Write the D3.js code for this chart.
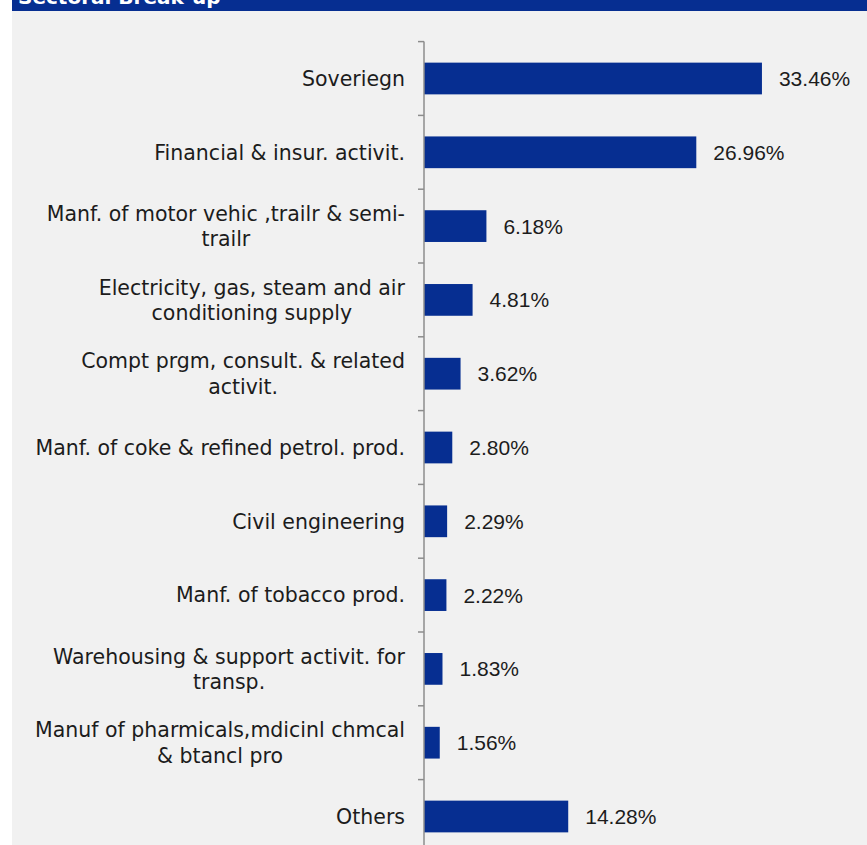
<!DOCTYPE html>
<html>
<head>
<meta charset="utf-8">
<script src="https://cdn.jsdelivr.net/npm/d3@7"></script>
<style>
  html, body { margin: 0; padding: 0; background: #ffffff; }
  svg { display: block; }
</style>
</head>
<body>
<svg id="chart" width="867" height="845"></svg>
<script>
// Sector names (line breaks marked with "\n") and their share of the portfolio (%)
const categories = [
  "Soveriegn",
  "Financial & insur. activit.",
  "Manf. of motor vehic ,trailr & semi-\ntrailr",
  "Electricity, gas, steam and air\nconditioning supply",
  "Compt prgm, consult. & related\nactivit.",
  "Manf. of coke & refined petrol. prod.",
  "Civil engineering",
  "Manf. of tobacco prod.",
  "Warehousing & support activit. for\ntransp.",
  "Manuf of pharmicals,mdicinl chmcal\n& btancl pro",
  "Others"
];
const shares = [33.46, 26.96, 6.18, 4.81, 3.62, 2.80, 2.29, 2.22, 1.83, 1.56, 14.28];
const valueLabels = ["33.46%", "26.96%", "6.18%", "4.81%", "3.62%", "2.80%", "2.29%", "2.22%", "1.83%", "1.56%", "14.28%"];
const title = "Sectoral Break-up";

const W = 867, H = 845;
const svg = d3.select("#chart");
const FONT = "'DejaVu Sans', sans-serif";
const VFONT = "'Liberation Sans', Arial, sans-serif";
const BLUE = "#062e91";
const INK = "#1c1c1c";

// Panel background and header strip
svg.append("rect").attr("x", 12).attr("y", 0).attr("width", W - 12).attr("height", H).attr("fill", "#f1f1f1");
svg.append("rect").attr("x", 12).attr("y", 0).attr("width", W - 12).attr("height", 11).attr("fill", BLUE);
svg.append("text").attr("x", 18).attr("y", 4)
  .attr("font-family", FONT).attr("font-weight", "bold").attr("font-size", 20)
  .attr("fill", "#ffffff").text(title);

const axisX = 424;
const x = d3.scaleLinear().domain([0, 35]).range([axisX, axisX + 353.5]);
const y = d3.scaleBand().domain(categories).range([41.6, 41.6 + 11 * 73.8]).paddingInner(0.57).paddingOuter(0.285);

// Bars
svg.append("g").selectAll("rect").data(categories).join("rect")
  .attr("x", x(0))
  .attr("y", d => y(d))
  .attr("width", (d, i) => x(shares[i]) - x(0))
  .attr("height", y.bandwidth())
  .attr("fill", BLUE);

// Value labels
svg.append("g").selectAll("text").data(categories).join("text")
  .attr("x", (d, i) => x(shares[i]) + 17)
  .attr("y", d => y(d) + y.bandwidth() / 2)
  .attr("dy", "0.36em")
  .attr("font-family", VFONT).attr("font-size", 21).attr("fill", INK)
  .text((d, i) => valueLabels[i]);

// Category axis: line with ticks on band boundaries
const step = y.step();
const y0 = y.range()[0];
const axisG = svg.append("g");
axisG.append("line").attr("x1", axisX).attr("x2", axisX).attr("y1", y0).attr("y2", H + 10)
  .attr("stroke", "#8c8c8c").attr("stroke-width", 1.5);
axisG.selectAll("line.tick").data(d3.range(categories.length + 1)).join("line")
  .attr("class", "tick")
  .attr("x1", axisX - 6).attr("x2", axisX)
  .attr("y1", i => y0 + i * step).attr("y2", i => y0 + i * step)
  .attr("stroke", "#8c8c8c").attr("stroke-width", 1.5);

// Category labels: block right-aligned to the axis, lines centred within the block
const labelRight = 405;
const lineH = 25.5;
const labels = svg.append("g").attr("font-family", FONT).attr("font-size", 20.5).attr("fill", INK);
categories.forEach(cat => {
  const lines = cat.split("\n");
  const cy = y(cat) + y.bandwidth() / 2;
  const t = labels.append("text").attr("text-anchor", "middle");
  const spans = lines.map((ln, k) =>
    t.append("tspan").attr("x", 0)
      .attr("y", cy + (k - (lines.length - 1) / 2) * lineH)
      .attr("dy", "0.36em").text(ln));
  const w = d3.max(spans, s => s.node().getComputedTextLength());
  spans.forEach(s => s.attr("x", labelRight - w / 2));
});
</script>
</body>
</html>
